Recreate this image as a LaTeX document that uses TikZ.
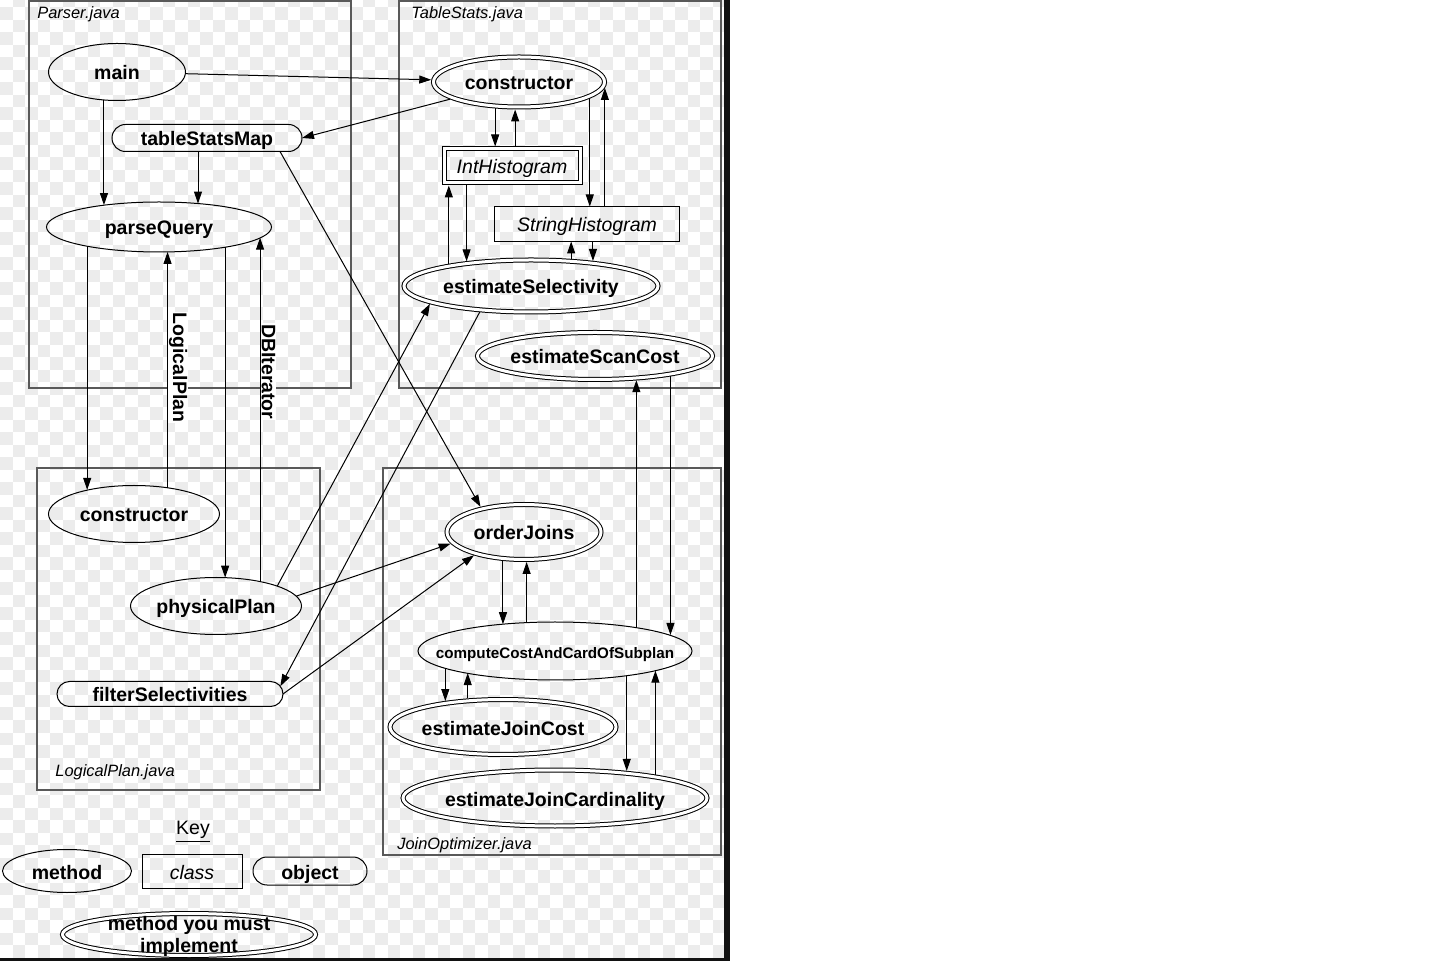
\documentclass[tikz,border=0pt]{standalone}
\usepackage{fontspec}
\setmainfont{Liberation Sans}
\usetikzlibrary{arrows.meta,shapes.geometric,shapes.misc}
\tikzset{
  fixedtext/.style={execute at begin node={\hbox to 0pt\bgroup\hss},
    execute at end node={\hss\egroup}},
  method/.style={ellipse, draw, line width=0.5pt, inner sep=0pt, outer sep=0pt,
    fixedtext, text height=8pt, text depth=0pt,
    font=\bfseries\fontsize{9.75}{11}\selectfont},
  mustdo/.style={method, double, double distance=1.5pt, outer sep=1.25pt},
  object/.style={method, rounded rectangle},
  class/.style={rectangle, draw, line width=0.5pt, inner sep=0pt, outer sep=0pt,
    fixedtext, text height=8pt, text depth=0pt,
    font=\itshape\fontsize{9.75}{11}\selectfont},
  mustclass/.style={class, double, double distance=1.5pt, outer sep=1.25pt},
  javafile/.style={draw=black!65, line width=0.75pt},
  filename/.style={anchor=west, inner sep=0pt, font=\itshape\fontsize{8.2}{10}\selectfont},
  call/.style={draw, line width=0.5pt, -{Triangle[length=6pt,width=4pt]}},
  passes/.style={rotate=-90, anchor=south, fill=white, inner sep=0.5pt,
    font=\bfseries\fontsize{9.75}{11}\selectfont}
}
\begin{document}
\begin{tikzpicture}[x=0.5pt, y=-0.5pt]
    \useasboundingbox (0,0) rectangle (1429,961);
    \fill[white] (0,0) rectangle (1429,961);
    \begin{scope}
        \clip (0,0) rectangle (724,957.5);
        \foreach \r in {-1,...,76}{
            \foreach \c in {0,...,57}{
                \pgfmathtruncatemacro\chk{mod(\r+\c+2,2)}
                \ifnum\chk=0
                    \fill[gray!15] (12.5*\c,7.5+12.5*\r) rectangle ++(12.5,12.5);
                \fi
            }
        }
    \end{scope}
    \fill[black!93] (724,0) rectangle (729.5,961);
    \fill[black!93] (0,957.5) rectangle (729.5,961);
%
    \draw[javafile] (29,1) rectangle (351,388);
    \draw[javafile] (399,1) rectangle (721,388);
    \draw[javafile] (37,468) rectangle (320,790);
    \draw[javafile] (383,468) rectangle (721,855);
    \node[filename] (parserFile) at (37,14) {Parser.java};
    \node[filename] (tableStatsFile) at (411,14) {TableStats.java};
    \node[filename] (logicalPlanFile) at (55,772) {LogicalPlan.java};
    \node[filename] (joinOptimizerFile) at (397,845) {JoinOptimizer.java};
%
    \node[method, minimum width=68.5pt, minimum height=28.5pt] (main) at (117,72) {main};
    \node[object, minimum width=95pt, minimum height=13.5pt] (tableStatsMap) at (207,138) {tableStatsMap};
    \node[method, minimum width=112.5pt, minimum height=25pt] (parseQuery) at (159,227) {parseQuery};
    \node[mustdo, minimum width=85.5pt, minimum height=25pt] (tsConstructor) at (519,82) {constructor};
    \node[mustclass, minimum width=68pt, minimum height=17pt] (intHistogram) at (512,166) {IntHistogram};
    \node[class, minimum width=92.5pt, minimum height=17.5pt] (stringHistogram) at (587,224) {StringHistogram};
    \node[mustdo, minimum width=127pt, minimum height=26pt] (estSelectivity) at (531,286) {estimateSelectivity};
    \node[mustdo, minimum width=117.5pt, minimum height=23.5pt] (estScanCost) at (595,356) {estimateScanCost};
    \node[method, minimum width=85.5pt, minimum height=28.5pt] (lpConstructor) at (134,514) {constructor};
    \node[method, minimum width=85.5pt, minimum height=28.5pt] (physicalPlan) at (216,606) {physicalPlan};
    \node[object, minimum width=113pt, minimum height=12.5pt] (filterSelectivities) at (170,694) {filterSelectivities};
    \node[mustdo, minimum width=77pt, minimum height=27.5pt] (orderJoins) at (524,532) {orderJoins};
    \node[method, minimum width=137pt, minimum height=29pt,
        font=\bfseries\fontsize{7.6}{9}\selectfont] (costCard) at (555,651) {computeCostAndCardOfSubplan};
    \node[mustdo, minimum width=113pt, minimum height=27.5pt] (joinCost) at (503,727) {estimateJoinCost};
    \node[mustdo, minimum width=152pt, minimum height=28pt] (joinCard) at (555,798) {estimateJoinCardinality};
%
    \node[font=\fontsize{9.75}{11}\selectfont] (keyTitle) at (193,832) {\underline{Key}};
    \node[method, minimum width=64.5pt, minimum height=21.5pt] (keyMethod) at (67,871) {method};
    \node[class, minimum width=50pt, minimum height=17pt] (keyClass) at (192,871) {class};
    \node[object, minimum width=57pt, minimum height=14pt] (keyObject) at (310,871) {object};
    \node[mustdo, minimum width=126.5pt, minimum height=21pt] (keyMust) at (189,934.5)
        {\raisebox{-4.75pt}[0pt][0pt]{\begin{tabular}[b]{@{}c@{}}method you must\\implement\end{tabular}}};
%
    \draw[call] (main) -- (tsConstructor);
    \draw[call] (tsConstructor.-166) -- (tableStatsMap.east);
    \draw[call] (main.-115) -- (main.-115 |- parseQuery.158);
    \draw[call] ([xshift=-4.5pt]tableStatsMap.south) -- ([xshift=-4.5pt]tableStatsMap.south |- parseQuery.31);
    \draw[call] ([xshift=36.5pt]tableStatsMap.south) -- (orderJoins.150);
    \draw[call] (parseQuery.-165) -- (parseQuery.-165 |- lpConstructor.152);
    \draw[call] (lpConstructor.38) -- node[passes, pos=.51] (lblLogicalPlan) {LogicalPlan} (lpConstructor.38 |- parseQuery.-70);
    \draw[call] (parseQuery.-17) -- (parseQuery.-17 |- physicalPlan.74);
    \draw[call] (physicalPlan.29) -- node[passes, pos=.61] (lblDBIterator) {DBIterator} (physicalPlan.29 |- parseQuery.-6);
%
    \draw[call] (physicalPlan.18) -- (estSelectivity.-170);
    \draw[call] (estSelectivity.-153) -- (filterSelectivities.4);
    \draw[call] (physicalPlan.7) -- (orderJoins.-171);
    \draw[call] (filterSelectivities.east) -- (orderJoins.-155);
%
    \draw[call] (tsConstructor.-132) -- (tsConstructor.-132 |- intHistogram.north);
    \draw[call] (tsConstructor.-98 |- intHistogram.north) -- (tsConstructor.-98);
    \draw[call] (estSelectivity.165) -- (estSelectivity.165 |- intHistogram.south);
    \draw[call] (estSelectivity.159 |- intHistogram.south) -- (estSelectivity.159);
    \draw[call] (tsConstructor.-13) -- (tsConstructor.-13 |- stringHistogram.north);
    \draw[call] (tsConstructor.-4 |- stringHistogram.north) -- (tsConstructor.-4);
    \draw[call] (estSelectivity.34) -- (estSelectivity.34 |- stringHistogram.south);
    \draw[call] (estSelectivity.22 |- stringHistogram.south) -- (estSelectivity.22);
%
    \draw[call] (costCard.16) -- (costCard.16 |- estScanCost.-29);
    \draw[call] (estScanCost.-15) -- (estScanCost.-15 |- costCard.8);
    \draw[call] (orderJoins.-126) -- (orderJoins.-126 |- costCard.153);
    \draw[call] (costCard.135) -- (costCard.135 |- orderJoins.-84);
    \draw[call] (costCard.-171) -- (costCard.-171 |- joinCost.156);
    \draw[call] (joinCost.141) -- (joinCost.141 |- costCard.-166);
    \draw[call] (costCard.-19) -- (costCard.-19 |- joinCard.21);
    \draw[call] (joinCard.13) -- (joinCard.13 |- costCard.-11);
\end{tikzpicture}
\end{document}
